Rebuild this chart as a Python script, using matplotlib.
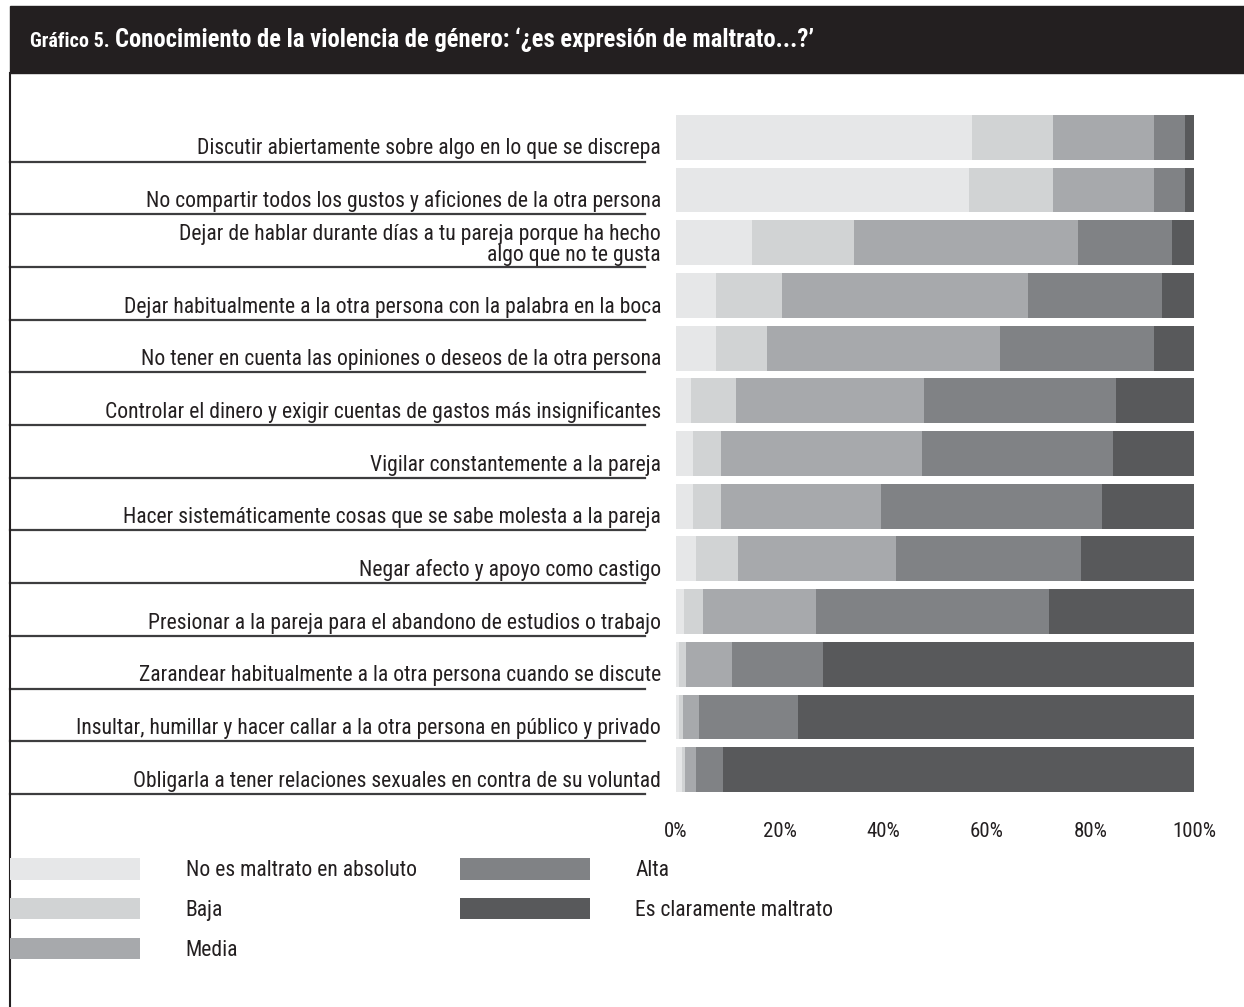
import matplotlib.pyplot as plt
from matplotlib.patches import Rectangle
from matplotlib.lines import Line2D
from matplotlib.transforms import blended_transform_factory

categories = [
    "Discutir abiertamente sobre algo en lo que se discrepa",
    "No compartir todos los gustos y aficiones de la otra persona",
    "Dejar de hablar durante días a tu pareja porque ha hecho\nalgo que no te gusta",
    "Dejar habitualmente a la otra persona con la palabra en la boca",
    "No tener en cuenta las opiniones o deseos de la otra persona",
    "Controlar el dinero y exigir cuentas de gastos más insignificantes",
    "Vigilar constantemente a la pareja",
    "Hacer sistemáticamente cosas que se sabe molesta a la pareja",
    "Negar afecto y apoyo como castigo",
    "Presionar a la pareja para el abandono de estudios o trabajo",
    "Zarandear habitualmente a la otra persona cuando se discute",
    "Insultar, humillar y hacer callar a la otra persona en público y privado",
    "Obligarla a tener relaciones sexuales en contra de su voluntad",
]
no_es = [57.2, 56.5, 14.6, 7.8, 7.8, 2.8, 3.3, 3.3, 3.8, 1.6, 0.5, 0.5, 1.2]
baja = [15.5, 16.2, 19.8, 12.7, 9.8, 8.7, 5.4, 5.4, 8.1, 3.6, 1.4, 0.9, 0.5]
media = [19.6, 19.6, 43.2, 47.5, 44.9, 36.4, 38.8, 30.8, 30.5, 21.9, 9.0, 3.0, 2.2]
alta = [6.0, 6.0, 18.1, 25.9, 29.8, 37.0, 36.8, 42.7, 35.8, 44.9, 17.4, 19.2, 5.2]
es_claramente = [1.7, 1.7, 4.3, 6.1, 7.7, 15.1, 15.7, 17.8, 21.8, 28.0, 71.7, 76.4, 90.9]

series_names = ["No es maltrato en absoluto", "Baja", "Media", "Alta",
                "Es claramente maltrato"]
colors = ["#e6e7e8", "#d1d3d4", "#a7a9ac", "#808285", "#58595b"]
ticks = [0, 20, 40, 60, 80, 100]
tick_labels = ["0%", "20%", "40%", "60%", "80%", "100%"]

title_small = "Gráfico 5."
title_main = "Conocimiento de la violencia de género: ‘¿es expresión de maltrato...?’"

FONT = ["Roboto Condensed", "Lato", "DejaVu Sans"]
plt.rcParams["font.family"] = FONT
INK = "#231f20"

W, H = 1244, 1007
fig = plt.figure(figsize=(W / 100, H / 100), dpi=100)

# bar area
ax = fig.add_axes([676 / W, 1 - 796 / H, 518 / W, 685 / H])
rows = list(range(len(categories)))
left = [0.0] * len(rows)
containers = []
for vals, name, c in zip([no_es, baja, media, alta, es_claramente], series_names, colors):
    bc = ax.barh(rows, vals, left=left, height=0.85, color=c, label=name)
    containers.append(bc)
    left = [l + v for l, v in zip(left, vals)]

ax.set_xlim(0, 100)
ax.set_ylim(len(rows) - 0.5, -0.5)
ax.set_yticks([])
ax.set_xticks(ticks)
ax.set_xticklabels(tick_labels, fontsize=15, color=INK)
ax.tick_params(axis="x", length=0, pad=19)
for s in ax.spines.values():
    s.set_visible(False)

# category labels + underlines
tr = blended_transform_factory(fig.transFigure, ax.transData)
for i, cat in enumerate(categories):
    y = i + 0.45 if "\n" in cat else i + 0.42
    ax.text(661 / W, y, cat, transform=tr, ha="right", va="bottom",
            multialignment="right", linespacing=1.0, fontsize=15.6,
            color=INK, clip_on=False)
    ax.plot([10 / W, 645 / W], [i + 0.46, i + 0.46], transform=tr,
            color="#3d3d3f", lw=1.6, clip_on=False)

# title bar and frame
fig.add_artist(Rectangle((10 / W, 1 - 73 / H), (W - 10) / W, 67 / H,
                         transform=fig.transFigure, color=INK, zorder=0))
fig.add_artist(Line2D([10 / W, 10 / W], [0, 1 - 73 / H], transform=fig.transFigure,
                      color=INK, lw=1.5))
t1 = fig.text(30 / W, 1 - 47 / H, title_small, color="white", fontsize=14.5,
              fontweight="bold", va="baseline")
fig.canvas.draw()
bb = t1.get_window_extent()
fig.text((bb.x1 + 5) / W, 1 - 47 / H, title_main, color="white", fontsize=17.7,
         fontweight="bold", va="baseline")

# legend
fig.legend(handles=containers, labels=series_names, loc="upper left",
           bbox_to_anchor=(10 / W, 1 - 858 / H), ncol=2, frameon=False,
           fontsize=15.6, handlelength=6.0, handleheight=1.15, handletextpad=2.1,
           columnspacing=2.0, labelspacing=0.78, borderpad=0, borderaxespad=0,
           labelcolor=INK)

fig.savefig("out.png", dpi=100)
